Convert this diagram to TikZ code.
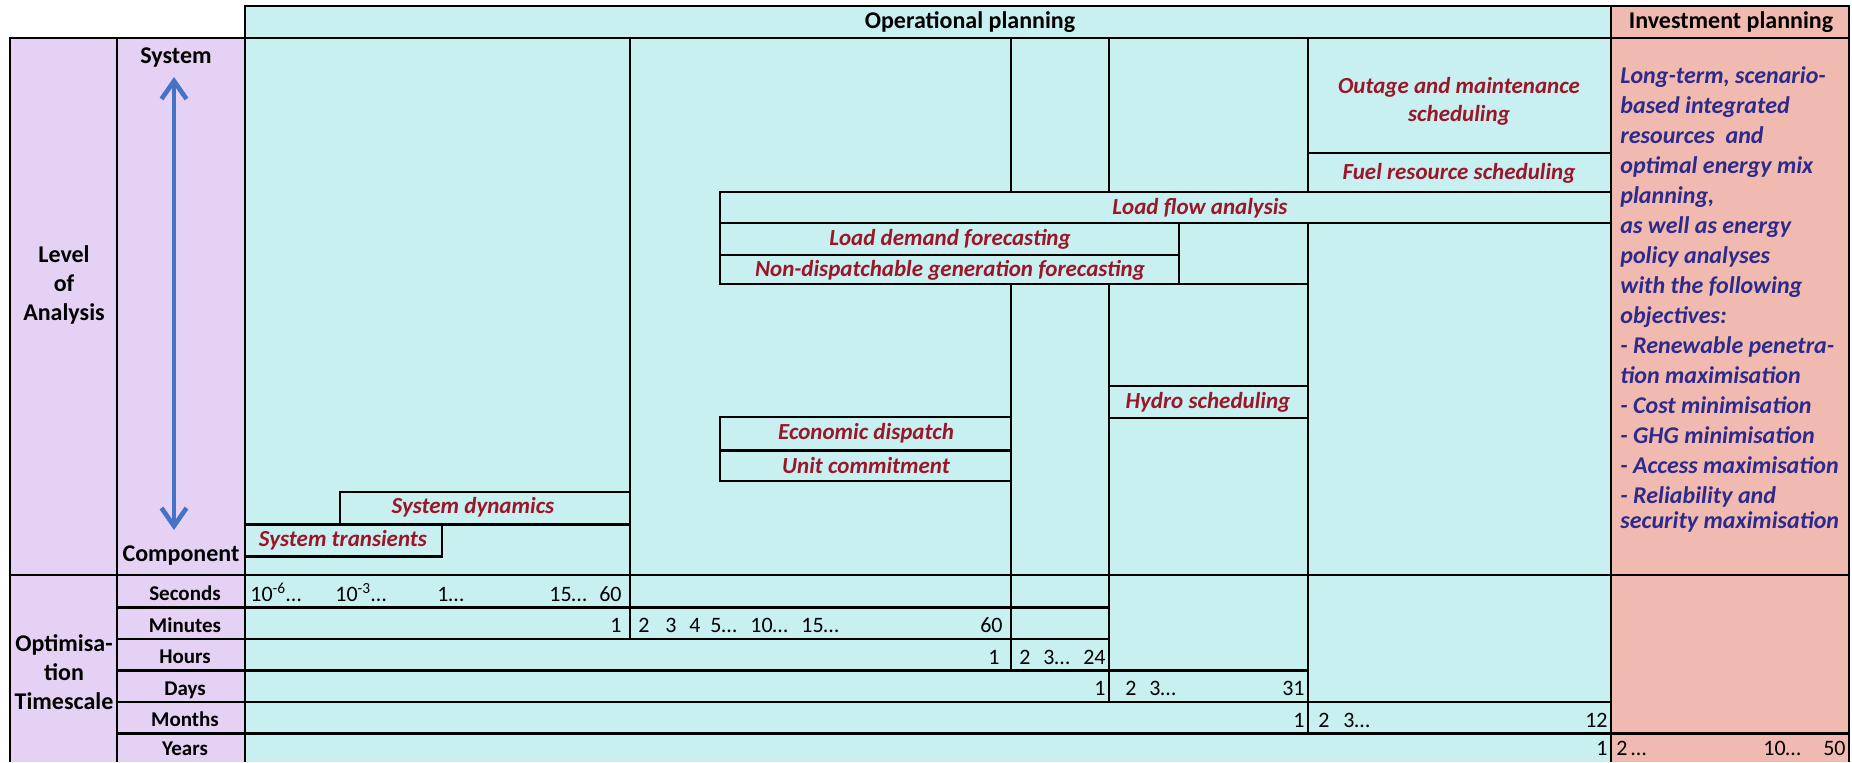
\documentclass[tikz,border=0pt]{standalone}
\usepackage{fontspec}
\setmainfont{Carlito}
\usetikzlibrary{arrows.meta}

\definecolor{opcyan}{RGB}{200,240,240}
\definecolor{invpink}{RGB}{240,186,176}
\definecolor{lvlpurple}{RGB}{229,209,243}
\definecolor{taskred}{RGB}{155,22,40}
\definecolor{invblue}{RGB}{45,42,140}
\definecolor{axisblue}{RGB}{68,114,196}

\begin{document}
\begin{tikzpicture}[x=0.5pt, y=-0.5pt,
  tline/.style={line width=1.2pt},
  hdr/.style={font=\bfseries\fontsize{12}{14.5}\selectfont, inner sep=0pt, align=center},
  task/.style={font=\bfseries\itshape\fontsize{11.5}{14}\selectfont, text=taskred, inner sep=0pt, align=center},
  rowlbl/.style={font=\bfseries\fontsize{10.5}{12}\selectfont, inner sep=0pt, anchor=base},
  numlbl/.style={font=\fontsize{11}{13}\selectfont, inner sep=0pt},
  lvlarrow/.style={draw=axisblue, line width=2.3pt, {Straight Barb[length=9pt,width=12.5pt]}-{Straight Barb[length=9pt,width=12.5pt]}}]
\useasboundingbox (0,0) rectangle (1852,762);

% fills
\fill[lvlpurple] (10,38) rectangle (245,762);
\fill[opcyan] (245,6) rectangle (1611,762);
\fill[invpink] (1611,6) rectangle (1849,762);

% frame
\draw[tline] (245,762) -- (245,6) -- (1849,6) -- (1849,762);
\draw[tline] (10,762) -- (10,38) -- (1849,38);
\draw[tline] (117,38) -- (117,762);
\draw[tline] (1611,6) -- (1611,762);
\draw[tline] (10,575) -- (1849,575);

% column lines and timescale staircase
\foreach \x/\yb in {630/639, 1011/670.5, 1109/702, 1308/733.5}
  \draw[tline] (\x,38) -- (\x,\yb);
\foreach \y/\xe in {607.5/1109, 639/1109, 670.5/1308, 702/1611, 733.5/1849}
  \draw[tline] (117,\y) -- (\xe,\y);

% task boxes
\draw[tline, fill=opcyan] (1308,38) rectangle (1611,153);
\draw[tline, fill=opcyan] (1308,153) rectangle (1611,192);
\draw[tline, fill=opcyan] (720,192) rectangle (1611,223);
\draw[tline, fill=opcyan] (720,223) rectangle (1179,255);
\draw[tline, fill=opcyan] (720,255) rectangle (1179,284);
\draw[tline] (1179,284) -- (1308,284);
\draw[tline, fill=opcyan] (1109,386) rectangle (1308,418);
\draw[tline, fill=opcyan] (720,417) rectangle (1011,450.5);
\draw[tline, fill=opcyan] (720,450.5) rectangle (1011,481);
\draw[tline, fill=opcyan] (340,492) rectangle (630,524.5);
\draw[tline, fill=opcyan] (245,524.5) rectangle (442,556.5);

% headers
\node[hdr] (op) at (970,22) {Operational planning};
\node[hdr] (inv) at (1731,22) {Investment planning};
\node[hdr] (level) at (64,285) {Level\\of\\Analysis};
\node[hdr] (opt) at (64,672) {Optimisa-\\tion\\Timescale};
\node[hdr] (sys) at (176,58) {System};
\node[hdr] (comp) at (181,556) {Component};
\coordinate (systop) at (174,77);
\coordinate (compbot) at (174,530);
\draw[lvlarrow] (systop) -- (compbot);

% tasks
\node[task] (outage) at (1459,101) {Outage and maintenance\\scheduling};
\node[task] (fuel) at (1459,173) {Fuel resource scheduling};
\node[task] (flow) at (1200,208) {Load flow analysis};
\node[task] (demand) at (950,239) {Load demand forecasting};
\node[task] (nondisp) at (950,270) {Non-dispatchable generation forecasting};
\node[task] (hydro) at (1208,402) {Hydro scheduling};
\node[task] (econ) at (866,433) {Economic dispatch};
\node[task] (unit) at (866,466) {Unit commitment};
\node[task] (dyn) at (473,507) {System dynamics};
\node[task] (trans) at (343,540) {System transients};

% investment objectives
\node[font=\bfseries\itshape\fontsize{12}{15}\selectfont, text=invblue, inner sep=0pt,
  anchor=north west, align=left] (invtext) at (1620,66)
  {Long-term, scenario-\\based integrated\\resources\ \ and\\optimal energy mix\\planning,\\
   as well as energy\\policy analyses\\with the following\\objectives:\\
   - Renewable penetra-\\tion maximisation\\- Cost minimisation\\- GHG minimisation\\
   - Access maximisation\\- Reliability and\\[-2.5pt]security maximisation};

% timescale rows
\foreach \t/\y [count=\i] in {Seconds/600.5, Minutes/632, Hours/663.5, Days/695, Months/726.5, Years/755}
  \node[rowlbl] (row\i) at (185,\y) {\t};

\foreach \x/\y/\a/\t [count=\i] in {
  250/601/west/10\textsuperscript{-6}…, 335/601/west/10\textsuperscript{-3}…,
  437/601/west/1…, 549/601/west/15…, 622/601/east/60,
  622/632.5/east/1, 638/632.5/west/2, 665/632.5/west/3, 689/632.5/west/4,
  710/632.5/west/5…, 750/632.5/west/10…, 801/632.5/west/15…, 1003/632.5/east/60,
  1000/664/east/1, 1019/664/west/2, 1043/664/west/3…, 1106/664/east/24,
  1106/695.5/east/1, 1125/695.5/west/2, 1149/695.5/west/3…, 1305/695.5/east/31,
  1305/727/east/1, 1318/727/west/2, 1343/727/west/3…, 1608/727/east/12,
  1608/755.5/east/1, 1616/755.5/west/2\,…, 1763/755.5/west/10…, 1846/755.5/east/50}
  \node[numlbl, anchor=base \a] (n\i) at (\x,\y) {\t};
\end{tikzpicture}
\end{document}
